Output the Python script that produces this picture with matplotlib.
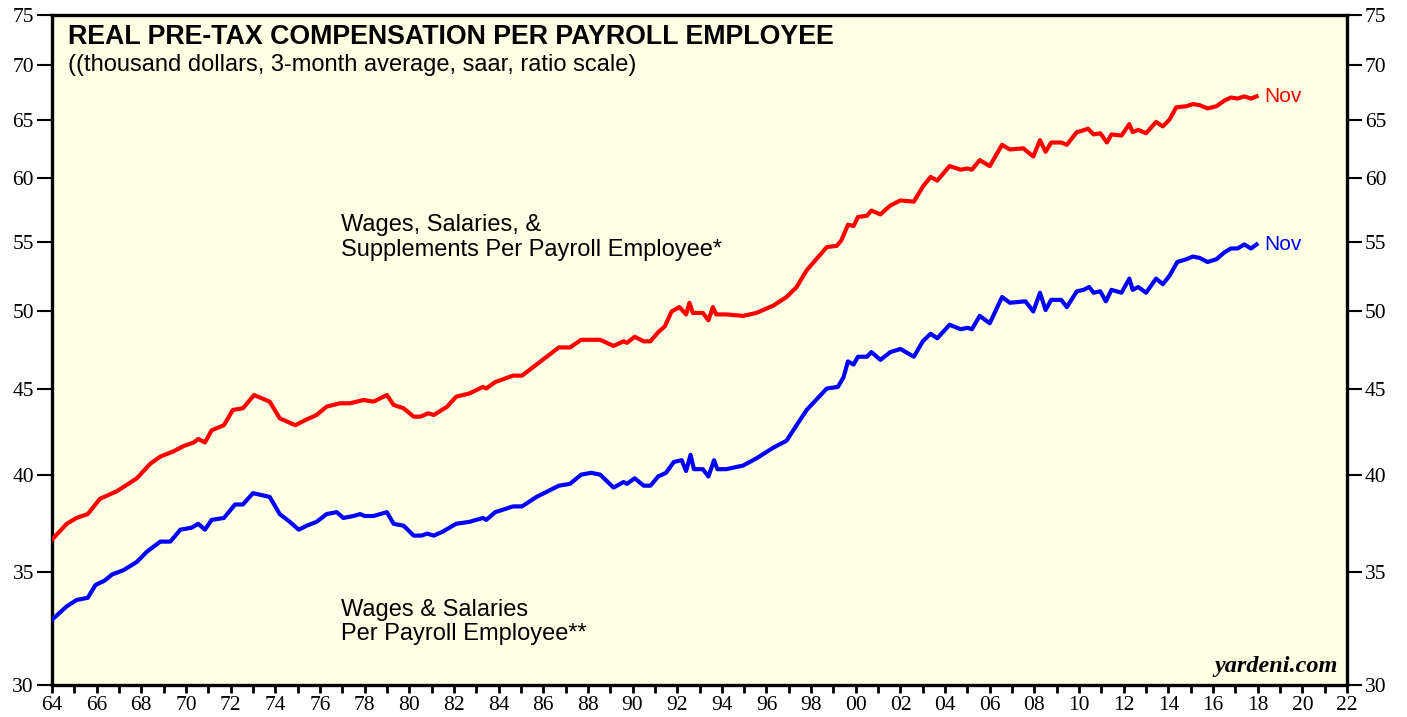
import numpy as np
import matplotlib
matplotlib.use("Agg")
import matplotlib.pyplot as plt
from matplotlib.ticker import FixedLocator, NullLocator

# wages, salaries & supplements per payroll employee (thousand $)
yrs_supp = [1964.0, 1964.66, 1965.1, 1965.6, 1966.15, 1966.9, 1967.8, 1968.4, 1968.85, 1969.45,
            1969.9, 1970.35, 1970.55, 1970.85, 1971.15, 1971.7, 1972.1, 1972.55, 1973.05, 1973.75,
            1974.2, 1974.9, 1975.35, 1975.85, 1976.3, 1976.9, 1977.35, 1977.95, 1978.4, 1979.0,
            1979.3, 1979.75, 1980.2, 1980.5, 1980.85, 1981.1, 1981.7, 1982.1, 1982.7, 1983.3,
            1983.45, 1983.85, 1984.65, 1985.05, 1985.7, 1986.7, 1987.2, 1987.7, 1988.55, 1989.15,
            1989.6, 1989.75, 1990.1, 1990.5, 1990.8, 1991.15, 1991.45, 1991.75, 1992.1, 1992.4,
            1992.55, 1992.7, 1993.15, 1993.4, 1993.6, 1993.75, 1994.2, 1994.95, 1995.55, 1996.3,
            1996.9, 1997.35, 1997.8, 1998.7, 1999.15, 1999.35, 1999.65, 1999.9, 2000.1, 2000.5,
            2000.7, 2001.1, 2001.55, 2002.0, 2002.6, 2003.0, 2003.35, 2003.65, 2004.2, 2004.7,
            2005.0, 2005.2, 2005.55, 2006.0, 2006.55, 2006.9, 2007.5, 2007.95, 2008.25, 2008.5,
            2008.75, 2009.2, 2009.45, 2009.9, 2010.1, 2010.4, 2010.65, 2010.95, 2011.25, 2011.45,
            2011.9, 2012.25, 2012.4, 2012.65, 2013.0, 2013.45, 2013.75, 2014.05, 2014.35, 2014.8,
            2015.1, 2015.4, 2015.75, 2016.15, 2016.5, 2016.8, 2017.1, 2017.4, 2017.7, 2017.95]
supp = [36.6, 37.4, 37.7, 37.9, 38.7, 39.1, 39.8, 40.6, 41.0, 41.3,
        41.6, 41.8, 42.0, 41.8, 42.5, 42.8, 43.7, 43.8, 44.6, 44.2,
        43.2, 42.8, 43.1, 43.4, 43.9, 44.1, 44.1, 44.3, 44.2, 44.6,
        44.0, 43.8, 43.3, 43.3, 43.5, 43.4, 43.9, 44.5, 44.7, 45.1,
        45.0, 45.4, 45.8, 45.8, 46.5, 47.6, 47.6, 48.1, 48.1, 47.7,
        48.0, 47.9, 48.3, 48.0, 48.0, 48.6, 49.0, 50.0, 50.3, 49.8,
        50.6, 49.9, 49.9, 49.4, 50.3, 49.8, 49.8, 49.7, 49.9, 50.4,
        51.0, 51.7, 52.9, 54.6, 54.7, 55.1, 56.3, 56.2, 56.9, 57.0,
        57.4, 57.1, 57.8, 58.2, 58.1, 59.3, 60.1, 59.8, 61.0, 60.7,
        60.8, 60.7, 61.5, 61.0, 62.8, 62.4, 62.5, 61.8, 63.2, 62.2,
        63.0, 63.0, 62.8, 63.9, 64.0, 64.2, 63.7, 63.8, 63.0, 63.7,
        63.6, 64.6, 63.9, 64.1, 63.8, 64.8, 64.4, 65.0, 66.1, 66.2,
        66.4, 66.3, 66.0, 66.2, 66.7, 67.0, 66.9, 67.1, 66.9, 67.1]

# wages & salaries per payroll employee (thousand $)
yrs_wage = [1964.0, 1964.65, 1965.1, 1965.6, 1965.95, 1966.35, 1966.7, 1967.2, 1967.8, 1968.25,
            1968.85, 1969.3, 1969.75, 1970.25, 1970.55, 1970.85, 1971.15, 1971.7, 1972.2, 1972.55,
            1973.0, 1973.75, 1974.2, 1974.65, 1975.05, 1975.4, 1975.85, 1976.3, 1976.75, 1977.05,
            1977.5, 1977.8, 1978.0, 1978.4, 1979.0, 1979.3, 1979.75, 1980.2, 1980.55, 1980.8,
            1981.1, 1981.5, 1982.1, 1982.7, 1983.3, 1983.45, 1983.85, 1984.65, 1985.05, 1985.7,
            1986.7, 1987.2, 1987.7, 1988.15, 1988.55, 1989.15, 1989.6, 1989.75, 1990.1, 1990.5,
            1990.8, 1991.15, 1991.5, 1991.85, 1992.2, 1992.4, 1992.6, 1992.75, 1993.15, 1993.4,
            1993.65, 1993.8, 1994.2, 1994.95, 1995.55, 1996.3, 1996.9, 1997.35, 1997.8, 1998.7,
            1999.2, 1999.45, 1999.65, 1999.9, 2000.1, 2000.5, 2000.7, 2001.1, 2001.55, 2002.0,
            2002.6, 2003.0, 2003.35, 2003.65, 2004.2, 2004.7, 2005.0, 2005.2, 2005.55, 2006.0,
            2006.55, 2006.9, 2007.6, 2007.95, 2008.25, 2008.5, 2008.75, 2009.2, 2009.45, 2009.9,
            2010.2, 2010.45, 2010.65, 2010.95, 2011.2, 2011.45, 2011.9, 2012.25, 2012.4, 2012.65,
            2013.0, 2013.45, 2013.75, 2014.05, 2014.4, 2014.8, 2015.1, 2015.4, 2015.75, 2016.15,
            2016.5, 2016.8, 2017.1, 2017.4, 2017.7, 2017.95]
wage = [32.8, 33.4, 33.7, 33.8, 34.4, 34.6, 34.9, 35.1, 35.5, 36.0,
        36.5, 36.5, 37.1, 37.2, 37.4, 37.1, 37.6, 37.7, 38.4, 38.4,
        39.0, 38.8, 37.9, 37.5, 37.1, 37.3, 37.5, 37.9, 38.0, 37.7,
        37.8, 37.9, 37.8, 37.8, 38.0, 37.4, 37.3, 36.8, 36.8, 36.9,
        36.8, 37.0, 37.4, 37.5, 37.7, 37.6, 38.0, 38.3, 38.3, 38.8,
        39.4, 39.5, 40.0, 40.1, 40.0, 39.3, 39.6, 39.5, 39.8, 39.4,
        39.4, 39.9, 40.1, 40.7, 40.8, 40.2, 41.1, 40.3, 40.3, 39.9,
        40.8, 40.3, 40.3, 40.5, 40.9, 41.5, 41.9, 42.8, 43.7, 45.0,
        45.1, 45.7, 46.7, 46.5, 47.0, 47.0, 47.3, 46.8, 47.3, 47.5,
        47.0, 48.0, 48.5, 48.2, 49.1, 48.8, 48.9, 48.8, 49.7, 49.2,
        51.0, 50.6, 50.7, 50.0, 51.3, 50.1, 50.8, 50.8, 50.3, 51.4,
        51.5, 51.7, 51.3, 51.4, 50.7, 51.5, 51.3, 52.3, 51.5, 51.7,
        51.3, 52.3, 51.9, 52.5, 53.5, 53.7, 53.9, 53.8, 53.5, 53.7,
        54.2, 54.5, 54.5, 54.8, 54.5, 54.8]

y_ticks = [30, 35, 40, 45, 50, 55, 60, 65, 70, 75]
x_major = list(range(1964, 2023, 2))
x_labels = ["%02d" % (y % 100) for y in x_major]

serif = "Liberation Serif"
sans = "Liberation Sans"

fig = plt.figure(figsize=(14.07, 7.17), dpi=100)
ax = fig.add_axes([52 / 1407, 32 / 717, 1295 / 1407, 670 / 717])
ax.set_facecolor("#ffffe5")

ax.plot(yrs_supp, supp, color="#ff0000", lw=3.0, solid_joinstyle="round", zorder=3)
ax.plot(yrs_wage, wage, color="#0000ff", lw=3.0, solid_joinstyle="round", zorder=3)

ax.set_yscale("log")
ax.set_ylim(30, 75)
ax.set_xlim(1964, 2022)
ax.yaxis.set_major_locator(FixedLocator(y_ticks))
ax.yaxis.set_minor_locator(NullLocator())
ax.set_yticklabels([str(v) for v in y_ticks])
ax.set_xticks(x_major)
ax.set_xticklabels(x_labels)
ax.set_xticks(range(1964, 2023), minor=True)

ax.tick_params(axis="y", which="major", direction="out", length=11, width=1.5,
               labelsize=15.5, left=True, right=True, labelleft=True, labelright=True, pad=2)
ax.tick_params(axis="x", which="both", direction="out", length=6, width=2, labelsize=15.5, pad=2)
for lab in ax.get_xticklabels() + ax.get_yticklabels():
    lab.set_fontfamily(serif)
for sp in ax.spines.values():
    sp.set_linewidth(2.4)

ax.text(0.012, 0.967, "REAL PRE-TAX COMPENSATION PER PAYROLL EMPLOYEE", transform=ax.transAxes,
        fontsize=19.3, fontweight="bold", family=sans, va="center", ha="left")
ax.text(0.012, 0.926, "((thousand dollars, 3-month average, saar, ratio scale)", transform=ax.transAxes,
        fontsize=17, family=sans, va="center", ha="left")

ax.text(1976.95, 55.3, "Wages, Salaries, &\nSupplements Per Payroll Employee*", fontsize=17,
        family=sans, va="center", ha="left", linespacing=1.17)
ax.text(1976.95, 32.7, "Wages & Salaries\nPer Payroll Employee**", fontsize=17,
        family=sans, va="center", ha="left", linespacing=1.17)

ax.text(yrs_supp[-1] + 0.35, supp[-1], "Nov", color="#ff0000", fontsize=15, family=sans,
        va="center", ha="left")
ax.text(yrs_wage[-1] + 0.35, wage[-1], "Nov", color="#0000ff", fontsize=15, family=sans,
        va="center", ha="left")

ax.text(0.993, 0.012, "yardeni.com", transform=ax.transAxes, fontsize=17.5, family=serif,
        fontweight="bold", fontstyle="italic", va="bottom", ha="right")

fig.savefig("out.png", dpi=100)
